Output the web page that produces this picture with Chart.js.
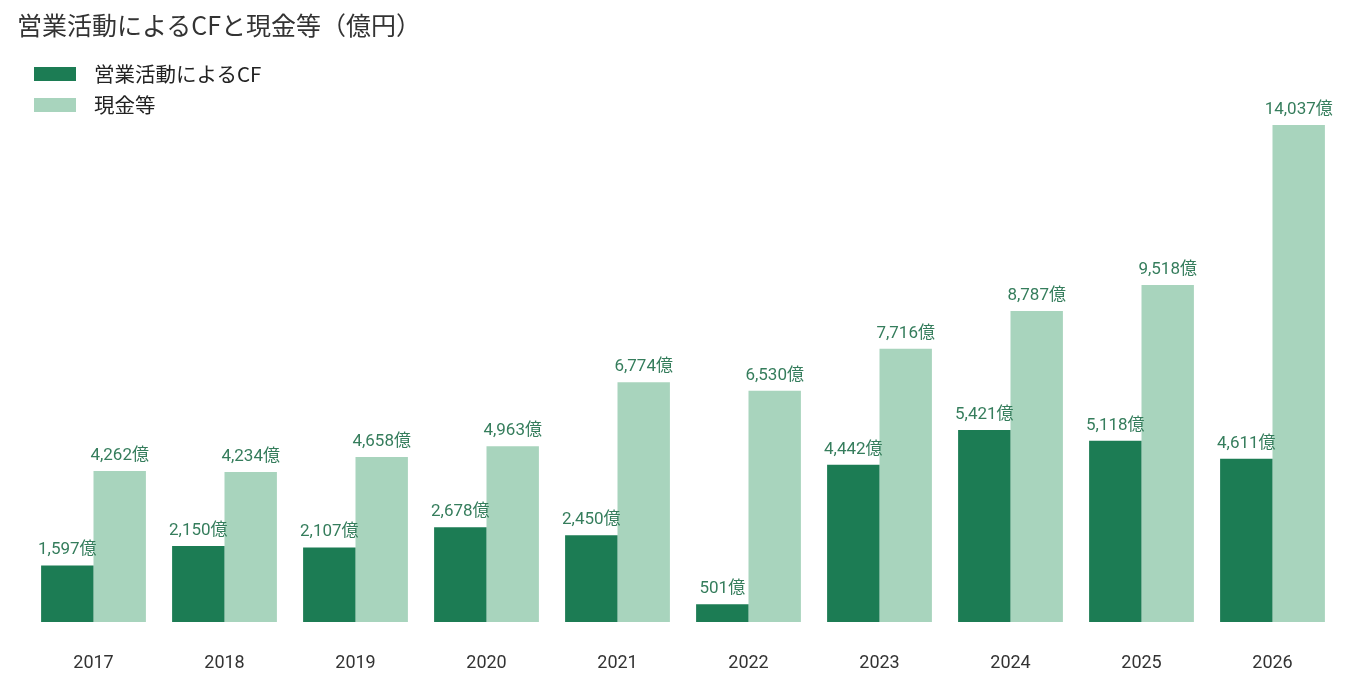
<!DOCTYPE html>
<html>
<head>
<meta charset="utf-8">
<script src="https://cdn.jsdelivr.net/npm/chart.js@4/dist/chart.umd.min.js"></script>
<style>
    html, body { margin: 0; padding: 0; background: #fff; }
    body { width: 1366px; height: 686px; position: relative; overflow: hidden; font-family: "Noto Sans CJK JP", "Noto Sans", sans-serif; }
    #wrap { position: absolute; left: 0; top: 0; width: 1366px; height: 686px; }
    .title { position: absolute; left: 17px; top: 6px; font-size: 25px; color: #333; line-height: 36px; }
    .legend { position: absolute; left: 34px; top: 58px; }
    .legend div { height: 31px; line-height: 31px; font-size: 20.5px; color: #222; display: flex; align-items: center; }
    .legend span.box { display: inline-block; width: 42px; height: 14px; margin-right: 18px; }
</style>
</head>
<body>
<div id="wrap"><canvas id="chart" width="1366" height="686"></canvas></div>
<div class="title">営業活動によるCFと現金等（億円）</div>
<div class="legend" id="legend"></div>
<script>
    // data
    var years = ['2017', '2018', '2019', '2020', '2021', '2022', '2023', '2024', '2025', '2026'];
    var operatingCF = [1597, 2150, 2107, 2678, 2450, 501, 4442, 5421, 5118, 4611];
    var cash = [4262, 4234, 4658, 4963, 6774, 6530, 7716, 8787, 9518, 14037];
    var seriesNames = ['営業活動によるCF', '現金等'];
    var seriesColors = ['#1c7c54', '#a8d4bd'];

    // html legend
    var legendEl = document.getElementById('legend');
    seriesNames.forEach(function (name, i) {
        var row = document.createElement('div');
        row.innerHTML = '<span class="box" style="background:' + seriesColors[i] + '"></span>' + name;
        legendEl.appendChild(row);
    });

    // value labels above bars
    var barLabels = {
        id: 'barLabels',
        afterDatasetsDraw: function (chart) {
            var ctx = chart.ctx;
            ctx.save();
            ctx.font = '17px Roboto, "Noto Sans CJK JP", sans-serif';
            ctx.fillStyle = '#357d5c';
            ctx.textAlign = 'center';
            ctx.textBaseline = 'alphabetic';
            chart.data.datasets.forEach(function (ds, i) {
                var meta = chart.getDatasetMeta(i);
                meta.data.forEach(function (bar, j) {
                    ctx.fillText(ds.data[j].toLocaleString('en-US') + '億', bar.x, bar.y - 11);
                });
            });
            ctx.restore();
        }
    };

    var ctx = document.getElementById('chart');

    new Chart(ctx, {
        type: 'bar',
        data: {
            labels: years,
            datasets: [{
                label: seriesNames[0],
                data: operatingCF,
                backgroundColor: seriesColors[0],
                borderWidth: 0
            }, {
                label: seriesNames[1],
                data: cash,
                backgroundColor: seriesColors[1],
                borderWidth: 0
            }]
        },
        options: {
            responsive: false,
            animation: false,
            layout: {
                padding: { top: 125, left: 28, right: 28, bottom: 0 }
            },
            datasets: {
                bar: { barPercentage: 1, categoryPercentage: 0.8 }
            },
            plugins: {
                legend: { display: false },
                title: { display: false },
                tooltip: { enabled: false }
            },
            scales: {
                x: {
                    grid: { display: false },
                    border: { display: false },
                    afterFit: function (scale) { scale.height = 64; },
                    ticks: {
                        color: '#333',
                        padding: 23,
                        font: { size: 18, family: 'Roboto, "Noto Sans CJK JP", sans-serif' }
                    }
                },
                y: {
                    display: false,
                    min: 0,
                    max: Math.max.apply(null, cash)
                }
            }
        },
        plugins: [barLabels]
    });
</script>
</body>
</html>
